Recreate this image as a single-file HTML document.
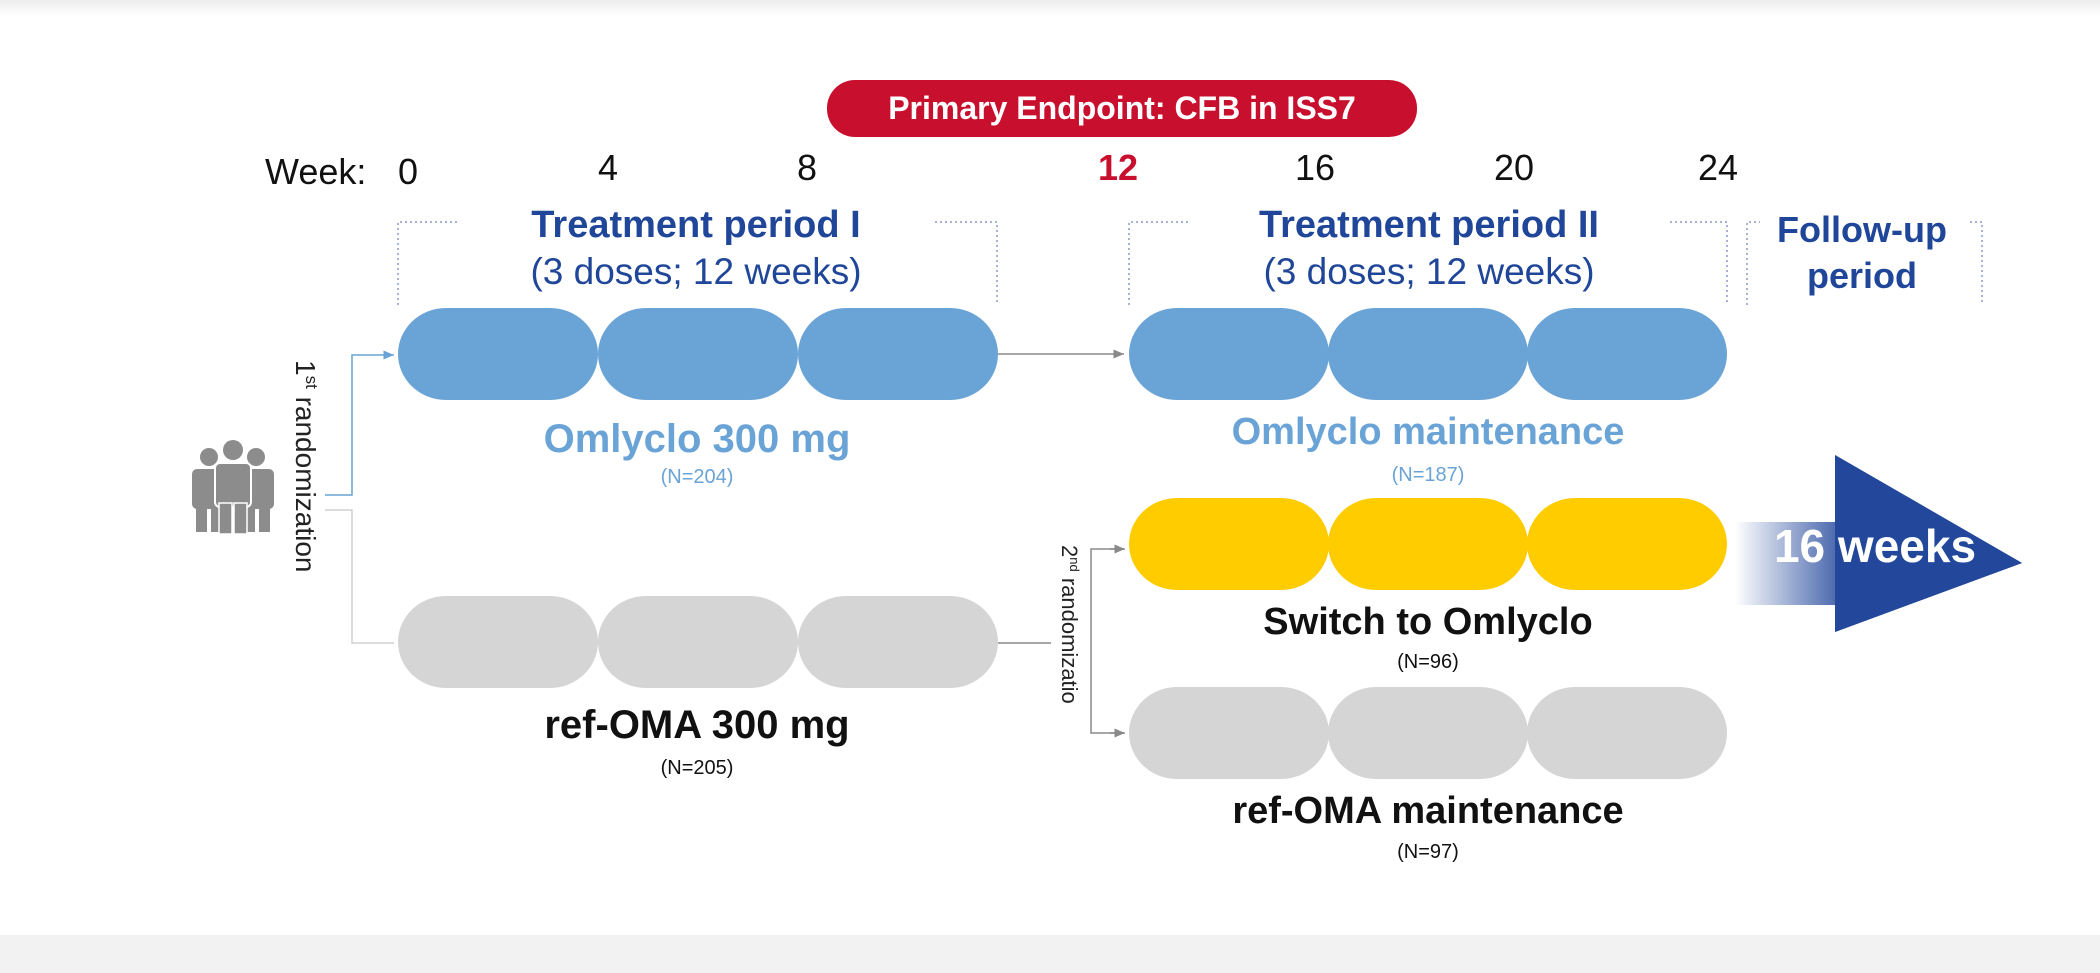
<!DOCTYPE html>
<html><head><meta charset="utf-8"><style>
html,body{margin:0;padding:0;background:#fff;}
svg{display:block;font-family:"Liberation Sans",sans-serif;}
</style></head><body>
<svg width="2100" height="973" viewBox="0 0 2100 973" xmlns="http://www.w3.org/2000/svg">
<defs>
<linearGradient id="topg" x1="0" y1="0" x2="0" y2="1"><stop offset="0" stop-color="#ececec"/><stop offset="1" stop-color="#fff"/></linearGradient>
<linearGradient id="arrg" x1="1735" y1="0" x2="1860" y2="0" gradientUnits="userSpaceOnUse"><stop offset="0" stop-color="#fff"/><stop offset="1" stop-color="#22479b"/></linearGradient>
<marker id="ab" markerWidth="8" markerHeight="8" refX="7" refY="4" orient="auto"><path d="M0,1 L7,4 L0,7 z" fill="#6aa3d6"/></marker>
<marker id="ag" markerWidth="8" markerHeight="8" refX="7" refY="4" orient="auto"><path d="M0,1 L7,4 L0,7 z" fill="#8a8a8a"/></marker>
</defs>
<rect x="0" y="0" width="2100" height="16" fill="url(#topg)"/>
<rect x="0" y="935" width="2100" height="38" fill="#f2f2f2"/>

<g>
<rect x="827" y="80" width="590" height="57" rx="28" fill="#c8102e"/>
<text x="1122" y="119" text-anchor="middle" font-size="32" font-weight="bold" fill="#fff">Primary Endpoint: CFB in ISS7</text>
</g>

<g font-size="36" fill="#111">
<text x="265" y="184">Week:</text>
<text x="408" y="184" text-anchor="middle">0</text>
<text x="608" y="180" text-anchor="middle">4</text>
<text x="807" y="180" text-anchor="middle">8</text>
<text x="1118" y="180" text-anchor="middle" fill="#c8102e" font-weight="bold">12</text>
<text x="1315" y="180" text-anchor="middle">16</text>
<text x="1514" y="180" text-anchor="middle">20</text>
<text x="1718" y="180" text-anchor="middle">24</text>
</g>

<g fill="none" stroke="#8a9ac8" stroke-width="1.5" stroke-dasharray="2,3">
<path d="M398,305 V222 H460 M935,222 H997 V305"/>
<path d="M1129,305 V222 H1190 M1670,222 H1727 V305"/>
<path d="M1747,305 V222 H1760 M1970,222 H1982 V305"/>
</g>
<g fill="#1f4698" text-anchor="middle">
<text x="696" y="237" font-size="38" font-weight="bold">Treatment period I</text>
<text x="696" y="284" font-size="37">(3 doses; 12 weeks)</text>
<text x="1429" y="237" font-size="38" font-weight="bold">Treatment period II</text>
<text x="1429" y="284" font-size="37">(3 doses; 12 weeks)</text>
<text x="1862" y="242" font-size="36" font-weight="bold">Follow-up</text>
<text x="1862" y="288" font-size="36" font-weight="bold">period</text>
</g>

<g fill="#6aa3d6">
<rect x="398" y="308" width="200" height="92" rx="48" ry="46"/>
<rect x="598" y="308" width="200" height="92" rx="48" ry="46"/>
<rect x="798" y="308" width="200" height="92" rx="48" ry="46"/>
</g>
<g fill="#6aa3d6">
<rect x="1129" y="308" width="200" height="92" rx="48" ry="46"/>
<rect x="1328" y="308" width="200" height="92" rx="48" ry="46"/>
<rect x="1527" y="308" width="200" height="92" rx="48" ry="46"/>
</g>
<g fill="#ffcc00">
<rect x="1129" y="498" width="200" height="92" rx="48" ry="46"/>
<rect x="1328" y="498" width="200" height="92" rx="48" ry="46"/>
<rect x="1527" y="498" width="200" height="92" rx="48" ry="46"/>
</g>
<g fill="#d5d5d5">
<rect x="1129" y="687" width="200" height="92" rx="48" ry="46"/>
<rect x="1328" y="687" width="200" height="92" rx="48" ry="46"/>
<rect x="1527" y="687" width="200" height="92" rx="48" ry="46"/>
</g>
<g fill="#d5d5d5">
<rect x="398" y="596" width="200" height="92" rx="48" ry="46"/>
<rect x="598" y="596" width="200" height="92" rx="48" ry="46"/>
<rect x="798" y="596" width="200" height="92" rx="48" ry="46"/>
</g>

<g fill="none" stroke-width="1.5">
<path d="M325,495 H352 V355 H394" stroke="#6aa3d6" marker-end="url(#ab)"/>
<path d="M325,510 H352 V643 H394" stroke="#d0d0d0"/>
<path d="M998,354 H1124" stroke="#8a8a8a" marker-end="url(#ag)"/>
<path d="M998,643 H1051" stroke="#8a8a8a"/>
<path d="M1124,549 H1091 V733 H1124" stroke="#8a8a8a"/>
<path d="M1110,549 H1125" stroke="#8a8a8a" marker-end="url(#ag)"/>
<path d="M1110,733 H1125" stroke="#8a8a8a" marker-end="url(#ag)"/>
</g>

<g fill="#8c8c8c">
<circle cx="209" cy="457" r="9"/><circle cx="233" cy="450" r="10"/><circle cx="256" cy="457" r="9"/>
<rect x="192" y="469" width="34" height="40" rx="5"/><rect x="240" y="469" width="34" height="40" rx="5"/>
<rect x="196" y="505" width="11" height="27"/><rect x="211" y="505" width="11" height="27"/>
<rect x="244" y="505" width="11" height="27"/><rect x="259" y="505" width="11" height="27"/>
<rect x="215" y="463" width="36" height="44" rx="5" stroke="#fff" stroke-width="2"/>
<rect x="219" y="503" width="13" height="31" stroke="#fff" stroke-width="1.5"/><rect x="234" y="503" width="13" height="31" stroke="#fff" stroke-width="1.5"/>
</g>

<g>
<text transform="translate(296,360) rotate(90)" font-size="28" fill="#222">1<tspan font-size="17" dy="-10">st</tspan><tspan dy="10"> randomization</tspan></text>
</g>
<g>
<text transform="translate(1062,545) rotate(90)" font-size="22" fill="#222">2<tspan font-size="13" dy="-8">nd</tspan><tspan dy="8"> randomizatio</tspan></text>
</g>

<g text-anchor="middle" font-weight="bold">
<text x="697" y="452" font-size="40" fill="#6aa3d6">Omlyclo 300 mg</text>
<text x="697" y="483" font-size="20" font-weight="normal" fill="#6aa3d6">(N=204)</text>
<text x="697" y="738" font-size="40" fill="#111">ref-OMA 300 mg</text>
<text x="697" y="774" font-size="20" font-weight="normal" fill="#111">(N=205)</text>
<text x="1428" y="444" font-size="38" fill="#6aa3d6">Omlyclo maintenance</text>
<text x="1428" y="481" font-size="20" font-weight="normal" fill="#6aa3d6">(N=187)</text>
<text x="1428" y="634" font-size="38" fill="#111">Switch to Omlyclo</text>
<text x="1428" y="668" font-size="20" font-weight="normal" fill="#111">(N=96)</text>
<text x="1428" y="823" font-size="38" fill="#111">ref-OMA maintenance</text>
<text x="1428" y="858" font-size="20" font-weight="normal" fill="#111">(N=97)</text>
</g>

<g>
<path d="M1735,522 H1835 V455 L2022,563 L1835,632 V605 H1735 Z" fill="url(#arrg)"/>
<path d="M1835,455 L2022,563 L1835,632 Z" fill="#22479b"/>
<text x="1875" y="562" text-anchor="middle" font-size="46" font-weight="bold" fill="#fff">16 weeks</text>
</g>
</svg>
</body></html>
